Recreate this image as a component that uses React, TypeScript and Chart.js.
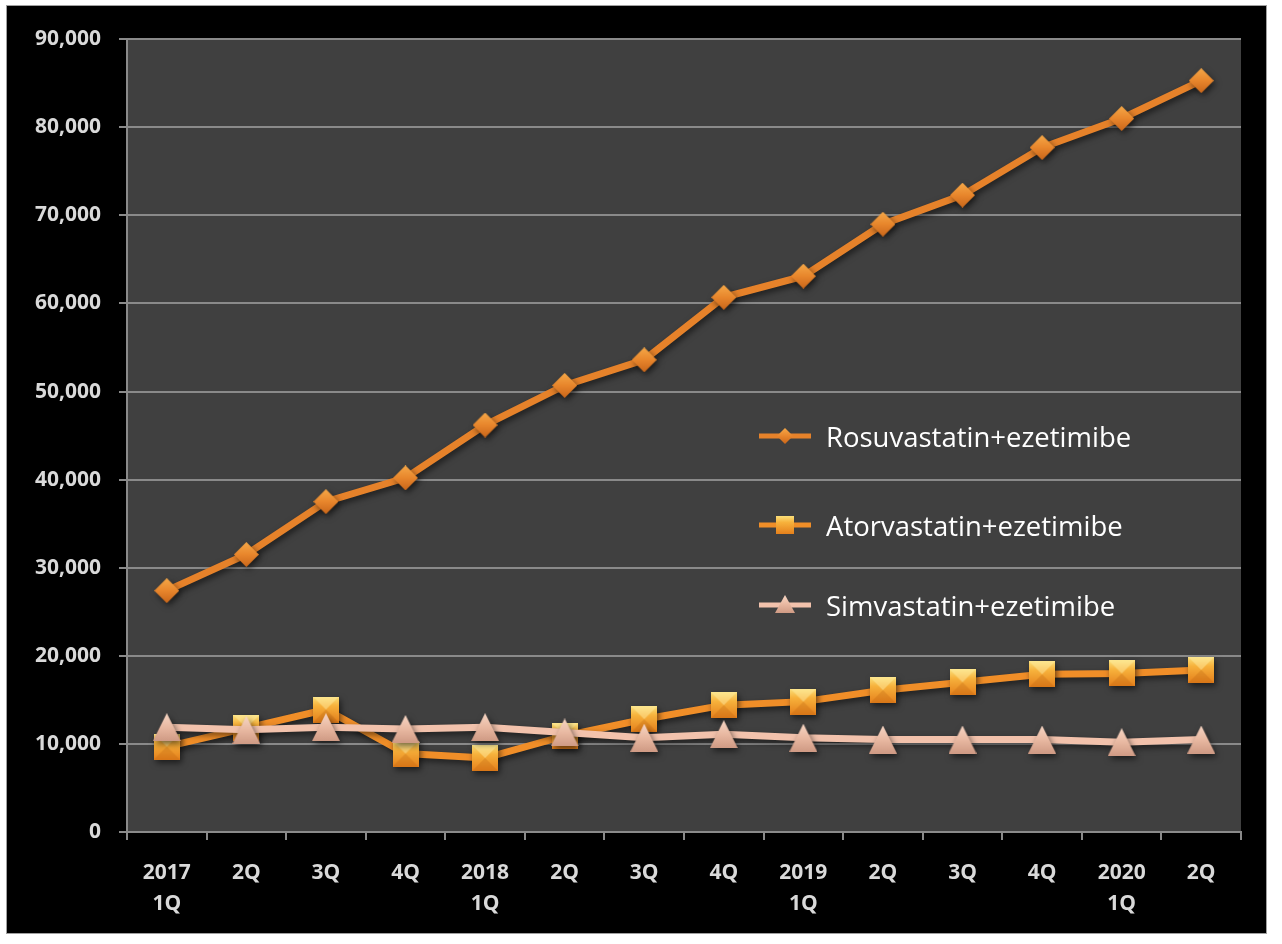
import React, { useEffect, useRef } from "react";
import { Chart, registerables } from "chart.js";

Chart.register(...registerables);

const categories: (string | string[])[] = [
  ["2017", "1Q"], "2Q", "3Q", "4Q",
  ["2018", "1Q"], "2Q", "3Q", "4Q",
  ["2019", "1Q"], "2Q", "3Q", "4Q",
  ["2020", "1Q"], "2Q",
];

const rosuvastatin = [27400, 31500, 37500, 40200, 46200, 50700, 53600, 60700, 63100, 69000, 72300, 77700, 81000, 85300];
const atorvastatin = [9700, 11800, 13900, 8900, 8400, 10900, 12800, 14400, 14800, 16100, 17000, 17900, 18000, 18400];
const simvastatin = [11900, 11600, 11900, 11700, 11900, 11300, 10700, 11100, 10700, 10500, 10500, 10500, 10200, 10500];

const seriesNames = ["Rosuvastatin+ezetimibe", "Atorvastatin+ezetimibe", "Simvastatin+ezetimibe"];

const yMin = 0;
const yMax = 90000;
const yStep = 10000;

const ROSU = "rgb(230,130,42)";
const ATOR = "rgb(240,142,40)";
const SIMV = "rgb(242,194,172)";

type Stop = [number, string];
const ROSU_GRAD: Stop[] = [[0, "#f5a848"], [0.5, "#e8862c"], [1, "#c9661a"]];
const ATOR_GRAD: Stop[] = [[0, "#fbe07a"], [0.35, "#f7b23c"], [1, "#e5801c"]];
const SIMV_GRAD: Stop[] = [[0, "#f6d6c4"], [0.5, "#e9b9a2"], [1, "#cf9a84"]];

function makeMarker(kind: string, size: number, stops: Stop[]): HTMLCanvasElement {
  const c = document.createElement("canvas");
  c.width = size;
  c.height = size;
  const g = c.getContext("2d")!;
  const grad = g.createLinearGradient(0, 0, 0, size);
  stops.forEach(([o, col]) => grad.addColorStop(o, col));
  g.fillStyle = grad;
  g.beginPath();
  if (kind === "diamond") {
    g.moveTo(size / 2, 0);
    g.lineTo(size, size / 2);
    g.lineTo(size / 2, size);
    g.lineTo(0, size / 2);
  } else if (kind === "square") {
    g.rect(0, 0, size, size);
  } else {
    g.moveTo(size / 2, 0);
    g.lineTo(size, size);
    g.lineTo(0, size);
  }
  g.closePath();
  g.fill();
  if (kind === "square") {
    // bevel highlight
    g.fillStyle = "rgba(255,240,170,0.45)";
    g.beginPath();
    g.moveTo(0, 0);
    g.lineTo(size, 0);
    g.lineTo(size * 0.5, size * 0.5);
    g.closePath();
    g.fill();
    g.fillStyle = "rgba(180,90,10,0.25)";
    g.beginPath();
    g.moveTo(0, size);
    g.lineTo(size, size);
    g.lineTo(size * 0.5, size * 0.5);
    g.closePath();
    g.fill();
  }
  return c;
}

const plotBg = {
  id: "plotBg",
  beforeDraw(chart: any) {
    const { ctx, chartArea } = chart;
    ctx.save();
    ctx.fillStyle = "#404040";
    ctx.fillRect(chartArea.left, chartArea.top, chartArea.right - chartArea.left, chartArea.bottom - chartArea.top);
    ctx.restore();
  },
  beforeDatasetsDraw(chart: any) {
    const ctx = chart.ctx;
    ctx.save();
    ctx.shadowColor = "rgba(0,0,0,0.55)";
    ctx.shadowBlur = 6;
    ctx.shadowOffsetX = 2;
    ctx.shadowOffsetY = 3;
  },
  afterDatasetsDraw(chart: any) {
    chart.ctx.restore();
  },
};

const tickFont = { family: "'Open Sans', sans-serif", size: 21, weight: "bold" as const, lineHeight: 1.45 };
const gridColor = "#8a8a8a";

function LegendMarker({ kind, color, stops, id }: { kind: string; color: string; stops: Stop[]; id: string }) {
  return (
    <svg width={52} height={30} style={{ display: "block" }}>
      <defs>
        <linearGradient id={id} x1="0" y1="0" x2="0" y2="1">
          {stops.map(([o, c]) => (
            <stop key={o} offset={o} stopColor={c} />
          ))}
        </linearGradient>
      </defs>
      <line x1={0} y1={15} x2={52} y2={15} stroke={color} strokeWidth={5} />
      {kind === "diamond" && <polygon points="26,7 34,15 26,23 18,15" fill={`url(#${id})`} />}
      {kind === "square" && <rect x={17} y={6} width={18} height={18} fill={`url(#${id})`} />}
      {kind === "triangle" && <polygon points="26,5 36,23 16,23" fill={`url(#${id})`} />}
    </svg>
  );
}

export default function App() {
  const ref = useRef<HTMLCanvasElement | null>(null);

  useEffect(() => {
    if (!ref.current) return;
    const diamond = makeMarker("diamond", 25, ROSU_GRAD);
    const square = makeMarker("square", 26, ATOR_GRAD);
    const triangle = makeMarker("triangle", 28, SIMV_GRAD);
    const chart = new Chart(ref.current, {
      type: "line",
      data: {
        labels: categories,
        datasets: [
          {
            label: seriesNames[0],
            data: rosuvastatin,
            borderColor: ROSU,
            backgroundColor: ROSU,
            borderWidth: 7,
            pointStyle: diamond as any,
            pointRadius: 12,
            tension: 0,
            order: 2,
          },
          {
            label: seriesNames[1],
            data: atorvastatin,
            borderColor: ATOR,
            backgroundColor: ATOR,
            borderWidth: 7,
            pointStyle: square as any,
            pointRadius: 13,
            tension: 0,
            order: 1,
          },
          {
            label: seriesNames[2],
            data: simvastatin,
            borderColor: SIMV,
            backgroundColor: SIMV,
            borderWidth: 7,
            pointStyle: triangle as any,
            pointRadius: 14,
            tension: 0,
            order: 0,
          },
        ],
      },
      options: {
        animation: false,
        responsive: false,
        layout: { autoPadding: false, padding: { top: 29, right: 25, left: 0, bottom: 0 } },
        plugins: {
          legend: { display: false },
          tooltip: { enabled: false },
        },
        scales: {
          x: {
            type: "category",
            offset: true,
            grid: {
              offset: true,
              drawOnChartArea: false,
              drawTicks: true,
              tickLength: 8,
              color: gridColor,
              lineWidth: 2,
            },
            border: { display: true, color: gridColor, width: 2 },
            ticks: {
              color: "#d9d9d9",
              font: tickFont,
              padding: 18,
              maxRotation: 0,
              autoSkip: false,
            },
            afterFit(axis: any) {
              axis.height = 101;
            },
          },
          y: {
            min: yMin,
            max: yMax,
            ticks: {
              stepSize: yStep,
              color: "#d9d9d9",
              font: tickFont,
              padding: 18,
              callback: (v: any) => Number(v).toLocaleString("en-US"),
            },
            grid: {
              color: gridColor,
              lineWidth: 2,
              tickLength: 8,
              drawTicks: true,
            },
            border: { display: true, color: gridColor, width: 2 },
            afterFit(axis: any) {
              axis.width = 120;
            },
          },
        },
      },
      plugins: [plotBg],
    });
    return () => chart.destroy();
  }, []);

  const legendRows = [
    { name: seriesNames[0], kind: "diamond", color: ROSU, stops: ROSU_GRAD, top: 436 },
    { name: seriesNames[1], kind: "square", color: ATOR, stops: ATOR_GRAD, top: 525 },
    { name: seriesNames[2], kind: "triangle", color: SIMV, stops: SIMV_GRAD, top: 605 },
  ];

  return (
    <div style={{ position: "absolute", left: 0, top: 0, width: 1282, height: 944, background: "#fff" }}>
      <div
        style={{
          position: "absolute",
          left: 6,
          top: 5,
          width: 1259,
          height: 927,
          background: "#000",
          border: "1px solid #a0a0a0",
        }}
      >
        <canvas ref={ref} width={1259} height={927} style={{ display: "block" }} />
      </div>
      {legendRows.map((r, i) => (
        <div
          key={r.name}
          style={{
            position: "absolute",
            left: 759,
            top: r.top - 20,
            height: 40,
            display: "flex",
            alignItems: "center",
            color: "#ffffff",
            fontFamily: "'Open Sans', sans-serif",
            fontSize: 27.5,
            whiteSpace: "nowrap",
          }}
        >
          <LegendMarker kind={r.kind} color={r.color} stops={r.stops} id={`lg${i}`} />
          <span style={{ marginLeft: 15 }}>{r.name}</span>
        </div>
      ))}
    </div>
  );
}
